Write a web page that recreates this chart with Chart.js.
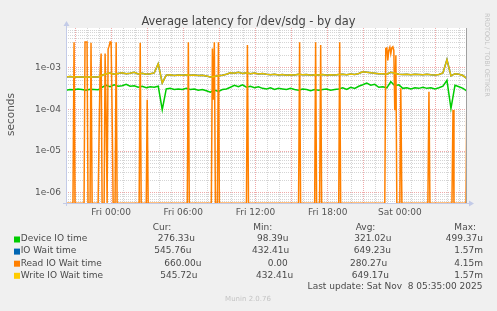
<!DOCTYPE html>
<html>
<head>
<meta charset="utf-8">
<script src="https://cdn.jsdelivr.net/npm/chart.js@4.4.1/dist/chart.umd.min.js"></script>
<style>
html, body { margin: 0; padding: 0; background: #f0f0f0; }
</style>
</head>
<body>
<canvas id="chart" width="497" height="311"></canvas>
<script>
// samples every 20 minutes, hours relative to Fri 00:00
const startHour = -3.75;
const stepHours = 1 / 3;
const endHour = 29.583;

// values in microseconds
const deviceIO = [
	290, 300, 295, 310, 300, 290, 305, 300, 295,
	340, 380, 350, 390, 360, 370, 400, 360,
	370, 340, 360, 330, 350, 340, 360,
	98.4,
	310, 320, 300, 310, 300, 320, 300, 310, 290, 300, 280, 260, 290, 270, 300, 310,
	340, 380, 350, 390, 340, 360, 330, 350, 320,
	310, 330, 300, 320, 310, 300, 320, 300, 290, 310, 300, 280, 300, 290, 300, 310, 290, 300, 310,
	330, 300, 340, 320, 360, 390, 430, 380, 400, 340, 350, 330,
	460, 370, 390, 320, 330, 310, 330, 320, 340, 320, 330, 310, 330,
	360, 499, 105, 380, 350, 320, 276,
];

const writeWait = [
	600, 620, 600, 610, 600, 590, 610, 600, 600,
	660, 720, 750, 700, 730, 760, 720, 740,
	780, 710, 740, 700, 720, 750,
	1250,
	432,
	660, 680, 650, 670, 660, 680, 660, 670, 650,
	660, 630, 600, 620, 640, 660, 700,
	760, 740, 780, 730, 760, 720, 750, 710, 730,
	700, 680, 700, 670, 690, 660, 680, 670, 700, 680, 690, 660, 680, 670, 690, 660, 680, 670, 690, 700, 680, 710, 690, 730,
	800, 780, 760, 740, 720, 720, 700,
	780, 740, 700, 690, 700, 680, 700, 690, 680, 700, 680, 670, 690,
	750, 1570, 640, 720, 700, 650, 546,
];

// IO wait sits under the write line in the picture
const ioWait = writeWait;

// read wait is zero most of the time, with short spikes
const readHours = [
	-3.75, -3.17, -3.08, -3.0,
	-2.25, -2.17, -2.08, -2.0, -1.92,
	-1.75, -1.67, -1.58,
	-1.08, -1.0, -0.92, -0.83, -0.75,
	-0.58, -0.5, -0.42, -0.33, -0.25, -0.17, -0.08, 0, 0.08, 0.17,
	0.33, 0.42, 0.5,
	2.33, 2.42, 2.5,
	2.92, 3.0, 3.08,
	6.33, 6.42, 6.5,
	8.33, 8.42, 8.5, 8.58, 8.67,
	8.83, 8.92, 9.0,
	11.25, 11.33, 11.42,
	15.58, 15.67, 15.75,
	16.92, 17.0, 17.08,
	17.33, 17.42, 17.5,
	18.92, 19.0, 19.08,
	22.75, 22.83, 22.92, 23.0, 23.08, 23.17, 23.25, 23.33, 23.42, 23.5, 23.58, 23.67, 23.75,
	24.0, 24.08, 24.17,
	26.33, 26.42, 26.5,
	28.33, 28.42, 28.5,
	29.5, 29.583,
];
const readWait = [
	0, 0, 4100, 0,
	0, 4150, 4150, 4150, 0,
	0, 4000, 0,
	0, 24, 700, 2200, 0,
	0, 2200, 95, 0, 2800, 3300, 4150, 4100, 100, 0,
	0, 4100, 0,
	0, 4000, 0,
	0, 170, 0,
	0, 4100, 0,
	0, 2900, 170, 4100, 0,
	0, 4100, 0,
	0, 3500, 0,
	0, 4100, 0,
	0, 4100, 0,
	0, 3500, 0,
	0, 4100, 0,
	0, 2900, 3000, 1500, 2600, 3100, 2200, 3000, 3200, 2600, 96, 2000, 0,
	0, 320, 0,
	0, 265, 0,
	0, 97, 0,
	0, 660,
];

const seriesNames = ['Device IO time', 'IO Wait time', 'Read IO Wait time', 'Write IO Wait time'];
const seriesColors = ['#00cc00', '#0066b3', '#ff8000', '#ffcc00'];
const statCur = ['276.33u', '545.76u', '660.00u', '545.72u'];
const statMin = ['98.39u', '432.41u', '0.00', '432.41u'];
const statAvg = ['321.02u', '649.23u', '280.27u', '649.17u'];
const statMax = ['499.37u', '1.57m', '4.15m', '1.57m'];

const xTickHours = [0, 6, 12, 18, 24];
const xTickLabels = ['Fri 00:00', 'Fri 06:00', 'Fri 12:00', 'Fri 18:00', 'Sat 00:00'];
const yTickValues = [1e-3, 1e-4, 1e-5, 1e-6];
const yTickLabels = ['1e-03', '1e-04', '1e-05', '1e-06'];

const yMin = 5.66e-7;
const yMax = 9e-3;

// zero cannot sit on a log axis: rrdtool draws it on the bottom edge
function toPoints(hours, values) {
	return values.map((v, i) => ({ x: hours[i], y: v > 0 ? v / 1e6 : yMin * 0.98 }));
}
const sampleHours = deviceIO.map((_, i) => startHour + i * stepHours);

const FONT = '"DejaVu Sans", sans-serif';
Chart.defaults.font.family = FONT;
Chart.defaults.font.size = 9;
Chart.defaults.color = '#555';

const MAJOR = 'rgba(235, 140, 140, 0.75)';
const MINOR = 'rgba(195, 195, 195, 0.7)';

function isDecade(v) {
	const l = Math.log10(v);
	return Math.abs(l - Math.round(l)) < 1e-6;
}

const muninPlugin = {
	id: 'munin',
	beforeDraw(chart) {
		const { ctx, chartArea: a } = chart;
		ctx.save();
		ctx.fillStyle = '#f0f0f0';
		ctx.fillRect(0, 0, chart.width, chart.height);
		ctx.fillStyle = '#ffffff';
		ctx.fillRect(a.left, a.top, a.right - a.left, a.bottom - a.top);
		ctx.restore();
	},
	afterDraw(chart) {
		const { ctx, chartArea: a } = chart;
		ctx.save();

		// right edge
		ctx.strokeStyle = '#a0a0a0';
		ctx.lineWidth = 1;
		ctx.beginPath();
		ctx.moveTo(a.right - 0.5, a.top);
		ctx.lineTo(a.right - 0.5, a.bottom);
		ctx.stroke();

		// axes with arrows
		ctx.strokeStyle = '#c3cbe8';
		ctx.fillStyle = '#c3cbe8';
		ctx.beginPath();
		ctx.moveTo(a.left + 0.5, a.bottom + 3);
		ctx.lineTo(a.left + 0.5, a.top - 3);
		ctx.moveTo(a.left - 3, a.bottom + 0.5);
		ctx.lineTo(a.right + 3, a.bottom + 0.5);
		ctx.stroke();
		ctx.beginPath();
		ctx.moveTo(a.left - 2.5, a.top - 2);
		ctx.lineTo(a.left + 3.5, a.top - 2);
		ctx.lineTo(a.left + 0.5, a.top - 7);
		ctx.closePath();
		ctx.fill();
		ctx.beginPath();
		ctx.moveTo(a.right + 2, a.bottom - 2.5);
		ctx.lineTo(a.right + 2, a.bottom + 3.5);
		ctx.lineTo(a.right + 7, a.bottom + 0.5);
		ctx.closePath();
		ctx.fill();

		// title
		ctx.fillStyle = '#444';
		ctx.font = '11.4px ' + FONT;
		ctx.textAlign = 'center';
		ctx.textBaseline = 'alphabetic';
		ctx.fillText('Average latency for /dev/sdg - by day', 248.5, 25);

		// y label
		ctx.save();
		ctx.translate(11, 114.5);
		ctx.rotate(-Math.PI / 2);
		ctx.font = '10.5px ' + FONT;
		ctx.fillStyle = '#555';
		ctx.textBaseline = 'middle';
		ctx.fillText('seconds', 0, 0);
		ctx.restore();

		// watermark
		ctx.save();
		ctx.translate(487, 13);
		ctx.rotate(Math.PI / 2);
		ctx.font = '6.5px ' + FONT;
		ctx.fillStyle = '#c4c4c4';
		ctx.textAlign = 'left';
		ctx.textBaseline = 'middle';
		ctx.fillText('RRDTOOL / TOBI OETIKER', 0, 0);
		ctx.restore();

		// legend table
		ctx.font = '9px ' + FONT;
		ctx.fillStyle = '#4a4a4a';
		ctx.textBaseline = 'middle';
		ctx.textAlign = 'left';
		ctx.fillText('Cur:', 152.7, 227.3);
		ctx.fillText('Min:', 253.3, 227.3);
		ctx.fillText('Avg:', 355.7, 227.3);
		ctx.textAlign = 'right';
		ctx.fillText('Max:', 476, 227.3);

		const curX = [157.7, 154.3, 164.3, 160.3];
		const minX = [257, 252, 267.7, 256];
		const avgX = [354.3, 353.7, 350, 351.7];
		seriesNames.forEach((name, i) => {
			const y = 239 + i * 12.1;
			ctx.fillStyle = seriesColors[i];
			ctx.fillRect(14, y - 2.5, 6, 6);
			ctx.fillStyle = '#4a4a4a';
			ctx.textAlign = 'left';
			ctx.fillText(name, 20.7, y);
			ctx.fillText(statCur[i], curX[i], y);
			ctx.fillText(statMin[i], minX[i], y);
			ctx.fillText(statAvg[i], avgX[i], y);
			ctx.textAlign = 'right';
			ctx.fillText(statMax[i], 483, y);
		});
		ctx.textAlign = 'right';
		ctx.fillText('Last update: Sat Nov  8 05:35:00 2025', 482.5, 287);

		ctx.font = '7px ' + FONT;
		ctx.fillStyle = '#c4c4c4';
		ctx.textAlign = 'center';
		ctx.fillText('Munin 2.0.76', 248, 298.7);
		ctx.restore();
	},
};

const config = {
	type: 'line',
	data: {
		datasets: [
			{
				label: seriesNames[0],
				data: toPoints(sampleHours, deviceIO),
				borderColor: seriesColors[0],
				order: 4,
			},
			{
				label: seriesNames[1],
				data: toPoints(sampleHours, ioWait),
				borderColor: seriesColors[1],
				order: 3,
			},
			{
				label: seriesNames[2],
				data: toPoints(readHours, readWait),
				borderColor: seriesColors[2],
				order: 2,
			},
			{
				label: seriesNames[3],
				data: toPoints(sampleHours, writeWait),
				borderColor: '#e6c000',
				order: 1,
			},
		],
	},
	options: {
		responsive: false,
		animation: false,
		devicePixelRatio: 1,
		layout: { padding: { left: 0, top: 28, right: 30, bottom: 88 } },
		elements: {
			point: { radius: 0 },
			line: { borderWidth: 1.5, tension: 0 },
		},
		plugins: {
			legend: { display: false },
			tooltip: { enabled: false },
		},
		scales: {
			x: {
				type: 'linear',
				min: startHour,
				max: endHour,
				afterFit: (s) => { s.height = 20; },
				afterBuildTicks: (s) => {
					const ticks = [];
					for (let h = -3; h <= 29; h++) ticks.push({ value: h });
					s.ticks = ticks;
				},
				ticks: {
					autoSkip: false,
					maxRotation: 0,
					padding: 4,
					color: '#555',
					callback: (v) => {
						const k = xTickHours.indexOf(v);
						return k >= 0 ? xTickLabels[k] : '';
					},
				},
				grid: {
					drawTicks: false,
					color: (c) => (c.tick && c.tick.value % 3 === 0 ? MAJOR : MINOR),
				},
				border: { display: false, dash: [1, 1] },
			},
			y: {
				type: 'logarithmic',
				min: yMin,
				max: yMax,
				afterFit: (s) => { s.width = 66; },
				afterBuildTicks: (s) => {
					const ticks = [];
					for (let e = -7; e <= -3; e++) {
						for (let k = 1; k <= 9; k++) {
							const v = k * Math.pow(10, e);
							if (v >= yMin && v <= yMax) ticks.push({ value: v });
						}
					}
					s.ticks = ticks;
				},
				ticks: {
					autoSkip: false,
					padding: 5,
					color: '#555',
					callback: (v) => {
						const k = yTickValues.findIndex((t) => Math.abs(v / t - 1) < 1e-6);
						return k >= 0 ? yTickLabels[k] : '';
					},
				},
				grid: {
					drawTicks: false,
					color: (c) => (c.tick && isDecade(c.tick.value) ? MAJOR : MINOR),
				},
				border: { display: false, dash: [1, 1] },
			},
		},
	},
	plugins: [muninPlugin],
};

new Chart(document.getElementById('chart'), config);
</script>
</body>
</html>
